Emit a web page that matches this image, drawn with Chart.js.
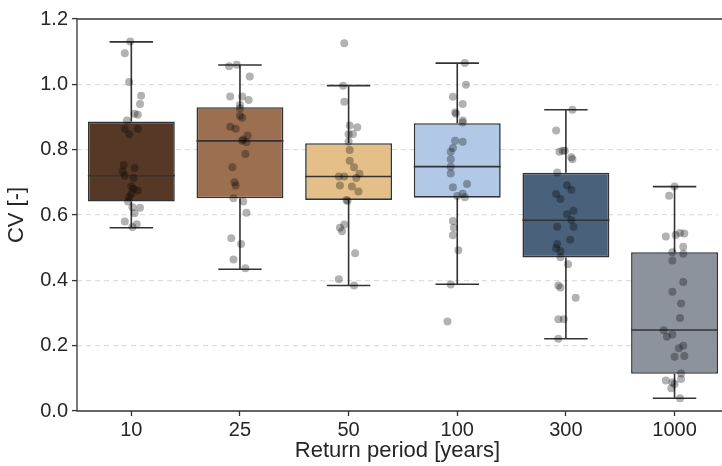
<!DOCTYPE html>
<html lang="en">
<head>
    <meta charset="UTF-8">
    <title>CV by return period</title>
    <script src="https://cdn.jsdelivr.net/npm/chart.js"></script>
    <style>
        html, body { margin: 0; padding: 0; background: #ffffff; overflow: hidden; }
        #wrap { width: 722px; height: 466px; }
    </style>
</head>
<body>
    <div id="wrap"><canvas id="cvChart"></canvas></div>

    <script>
        // categories (return periods)
        const periods = ["10", "25", "50", "100", "300", "1000"];

        // box statistics
        const q1      = [0.641, 0.651, 0.646, 0.653, 0.470, 0.114];
        const q3      = [0.886, 0.930, 0.820, 0.881, 0.729, 0.486];
        const medians = [0.720, 0.827, 0.718, 0.748, 0.584, 0.248];
        const whiskLo = [0.561, 0.434, 0.384, 0.388, 0.221, 0.039];
        const whiskHi = [1.130, 1.059, 0.996, 1.065, 0.922, 0.687];
        const boxColors = ["#553926", "#9b6f4f", "#e4c088", "#b1c8e6", "#4a617b", "#8d939d"];

        // individual samples (strip plot) and their horizontal jitter
        const samples = [
            [1.131, 1.095, 1.007, 0.965, 0.940, 0.910, 0.907, 0.889, 0.864, 0.864, 0.847, 0.753, 0.744, 0.733,
             0.720, 0.713, 0.687, 0.680, 0.675, 0.665, 0.656, 0.641, 0.624, 0.622, 0.605, 0.580, 0.572, 0.563],
            [1.055, 1.060, 1.024, 0.963, 0.963, 0.952, 0.937, 0.927, 0.904, 0.898, 0.870, 0.864, 0.843, 0.827,
             0.830, 0.823, 0.787, 0.746, 0.700, 0.690, 0.651, 0.641, 0.607, 0.529, 0.511, 0.464, 0.437],
            [1.126, 0.996, 0.947, 0.874, 0.869, 0.847, 0.848, 0.825, 0.799, 0.766, 0.746, 0.718, 0.718, 0.726,
             0.713, 0.690, 0.687, 0.672, 0.646, 0.643, 0.571, 0.561, 0.550, 0.483, 0.403, 0.384],
            [1.065, 0.999, 0.962, 0.940, 0.914, 0.910, 0.889, 0.883, 0.827, 0.824, 0.805, 0.794, 0.771, 0.748,
             0.727, 0.685, 0.695, 0.665, 0.654, 0.658, 0.582, 0.561, 0.538, 0.492, 0.387, 0.274],
            [0.922, 0.859, 0.794, 0.797, 0.797, 0.777, 0.771, 0.730, 0.691, 0.677, 0.664, 0.649, 0.613, 0.602,
             0.585, 0.564, 0.564, 0.524, 0.511, 0.498, 0.490, 0.471, 0.449, 0.384, 0.378, 0.347, 0.281, 0.281, 0.221],
            [0.687, 0.659, 0.534, 0.539, 0.545, 0.543, 0.503, 0.486, 0.481, 0.461, 0.395, 0.365, 0.329, 0.285,
             0.247, 0.227, 0.234, 0.200, 0.192, 0.166, 0.168, 0.115, 0.098, 0.093, 0.088, 0.083, 0.070, 0.039]
        ];
        const jitter = [
            [-0.01, -0.06, -0.02, 0.09, 0.08, 0.03, 0.06, -0.04, -0.06, 0.06, -0.02, -0.07, 0.03, -0.08,
             -0.06, 0.02, 0.00, 0.02, 0.06, 0.00, -0.02, -0.03, 0.01, 0.08, 0.03, -0.06, 0.05, 0.01],
            [-0.10, -0.03, 0.09, -0.09, 0.02, 0.08, 0.00, 0.00, 0.00, 0.02, -0.09, -0.04, 0.07, 0.02,
             0.03, 0.06, 0.05, -0.07, -0.05, -0.04, -0.06, 0.03, 0.06, -0.08, 0.01, -0.06, 0.05],
            [-0.04, -0.05, -0.04, 0.01, 0.08, 0.00, 0.04, 0.00, 0.01, 0.01, 0.05, -0.09, -0.04, 0.10,
             0.07, -0.08, 0.03, 0.09, -0.02, -0.01, -0.04, -0.08, -0.06, 0.06, -0.09, 0.05],
            [0.07, 0.08, -0.04, 0.05, -0.02, -0.01, 0.05, 0.05, -0.02, 0.05, -0.04, -0.06, -0.06, -0.06,
             -0.06, -0.04, 0.09, 0.05, 0.07, 0.00, -0.04, -0.03, -0.04, 0.01, -0.06, -0.09],
            [0.06, -0.09, -0.06, -0.03, -0.01, 0.05, 0.06, -0.08, 0.01, 0.05, -0.09, -0.05, 0.07, 0.01,
             0.05, -0.08, 0.07, 0.04, -0.08, -0.09, -0.05, -0.05, 0.02, -0.07, -0.05, 0.09, -0.07, -0.02, -0.07],
            [0.00, -0.05, -0.08, 0.01, 0.05, 0.09, 0.08, -0.02, 0.08, -0.02, 0.08, -0.02, 0.06, 0.05,
             -0.10, -0.07, -0.02, 0.08, 0.04, 0.00, 0.09, 0.06, 0.06, -0.08, -0.02, 0.00, -0.03, 0.05]
        ];

        const yTicks = [0, 0.2, 0.4, 0.6, 0.8, 1.0, 1.2];

        const edge = "#333333";
        const font = "'Liberation Sans', Arial, sans-serif";

        const boxData = periods.map((p, i) => ({ x: i, y: [q1[i], q3[i]] }));
        const stripData = [];
        samples.forEach((arr, i) => {
            arr.forEach((v, j) => stripData.push({ x: i + jitter[i][j], y: v }));
        });

        // whiskers, caps and medians, drawn right after the boxes
        const boxExtras = {
            id: "boxExtras",
            afterDatasetDraw(chart, args) {
                if (args.index !== 0) return;
                const ctx = chart.ctx;
                const xs = chart.scales.x, ys = chart.scales.y;
                ctx.save();
                ctx.strokeStyle = edge;
                ctx.lineWidth = 1.6;
                periods.forEach((p, i) => {
                    const cx = xs.getPixelForValue(i);
                    const capL = xs.getPixelForValue(i - 0.2), capR = xs.getPixelForValue(i + 0.2);
                    const boxL = xs.getPixelForValue(i - 0.4), boxR = xs.getPixelForValue(i + 0.4);
                    ctx.beginPath();
                    ctx.moveTo(cx, ys.getPixelForValue(q3[i]));
                    ctx.lineTo(cx, ys.getPixelForValue(whiskHi[i]));
                    ctx.moveTo(capL, ys.getPixelForValue(whiskHi[i]));
                    ctx.lineTo(capR, ys.getPixelForValue(whiskHi[i]));
                    ctx.moveTo(cx, ys.getPixelForValue(q1[i]));
                    ctx.lineTo(cx, ys.getPixelForValue(whiskLo[i]));
                    ctx.moveTo(capL, ys.getPixelForValue(whiskLo[i]));
                    ctx.lineTo(capR, ys.getPixelForValue(whiskLo[i]));
                    ctx.moveTo(boxL, ys.getPixelForValue(medians[i]));
                    ctx.lineTo(boxR, ys.getPixelForValue(medians[i]));
                    ctx.stroke();
                });
                ctx.restore();
            }
        };

        // top / left / bottom spines
        const frame = {
            id: "frame",
            afterDraw(chart) {
                const a = chart.chartArea, ctx = chart.ctx;
                ctx.save();
                ctx.strokeStyle = edge;
                ctx.lineWidth = 1.3;
                ctx.beginPath();
                ctx.moveTo(chart.width + 2, a.top);
                ctx.lineTo(a.left, a.top);
                ctx.lineTo(a.left, a.bottom);
                ctx.lineTo(chart.width + 2, a.bottom);
                ctx.stroke();
                ctx.restore();
            }
        };

        new Chart(document.getElementById("cvChart"), {
            type: "bar",
            data: {
                datasets: [
                    {
                        type: "bar",
                        data: boxData,
                        backgroundColor: boxColors,
                        borderColor: edge,
                        borderWidth: 1.6,
                        borderSkipped: false,
                        categoryPercentage: 0.8,
                        barPercentage: 1.0,
                        order: 2
                    },
                    {
                        type: "scatter",
                        data: stripData,
                        backgroundColor: "rgba(0,0,0,0.3)",
                        borderWidth: 0,
                        pointRadius: 4,
                        order: 1
                    }
                ]
            },
            options: {
                responsive: true,
                maintainAspectRatio: false,
                animation: false,
                layout: { padding: { top: 19, right: -8, left: 4, bottom: 2 } },
                plugins: { legend: { display: false }, tooltip: { enabled: false } },
                scales: {
                    x: {
                        type: "linear",
                        offset: false,
                        min: -0.5,
                        max: 5.40,
                        afterBuildTicks: (s) => { s.ticks = periods.map((p, i) => ({ value: i })); },
                        afterFit: (s) => { s.height = 53; },
                        ticks: {
                            callback: (v) => periods[v],
                            color: "#262626",
                            font: { family: font, size: 20 },
                            padding: 2,
                            maxRotation: 0
                        },
                        grid: { offset: false, drawOnChartArea: false, tickLength: 5, tickColor: edge, tickWidth: 1.3 },
                        border: { display: false },
                        title: {
                            display: true,
                            text: "Return period [years]",
                            color: "#262626",
                            font: { family: font, size: 22 },
                            padding: { top: 0, bottom: 0 }
                        }
                    },
                    y: {
                        min: 0,
                        max: 1.2,
                        afterBuildTicks: (s) => { s.ticks = yTicks.map(v => ({ value: v })); },
                        afterFit: (s) => { s.width = 73; },
                        ticks: {
                            callback: (v) => v.toFixed(1),
                            color: "#262626",
                            font: { family: font, size: 20 },
                            padding: 4
                        },
                        grid: {
                            color: (c) => (c.tick && (c.tick.value === 0 || c.tick.value === 1.2)) ? "rgba(0,0,0,0)" : "#dedede",
                            lineWidth: 1.2,
                            tickLength: 5,
                            tickColor: edge,
                            tickWidth: 1.3,
                            tickBorderDash: []
                        },
                        border: { display: false, dash: [5, 4] },
                        title: {
                            display: true,
                            text: "CV [-]",
                            color: "#262626",
                            font: { family: font, size: 22 },
                            padding: { top: 0, bottom: 4 }
                        }
                    }
                }
            },
            plugins: [boxExtras, frame]
        });
    </script>
</body>
</html>
